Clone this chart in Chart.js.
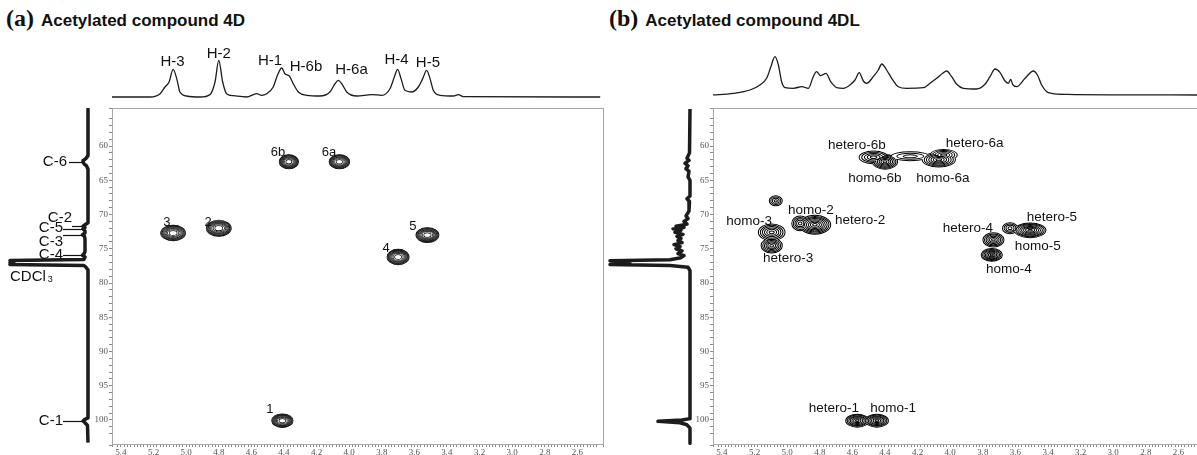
<!DOCTYPE html>
<html>
<head>
<meta charset="utf-8">
<script src="https://cdn.jsdelivr.net/npm/chart.js@4.4.1/dist/chart.umd.min.js"></script>
<style>
  html, body { margin: 0; padding: 0; background: #fff; }
  body { position: relative; width: 1197px; height: 455px; overflow: hidden; font-family: 'Liberation Sans', Arial, sans-serif; }
  canvas { position: absolute; }
  .title { position: absolute; top: 4px; white-space: nowrap; font-weight: bold; font-size: 17px; line-height: 28px; color: #111; }
  .title .tag { font-family: 'Liberation Serif', 'Times New Roman', serif; font-size: 24px; margin-right: 7px; }
</style>
</head>
<body>
<div class="title" style="left:6px"><span class="tag">(a)</span>Acetylated compound 4D</div>
<div class="title" style="left:609px"><span class="tag">(b)</span>Acetylated compound 4DL</div>

<canvas id="leftA" width="112" height="337" style="left:0;top:108px"></canvas>
<canvas id="topA" width="491" height="60" style="left:112px;top:40px"></canvas>
<canvas id="mapA" width="550" height="355" style="left:60px;top:100px"></canvas>

<canvas id="leftB" width="113" height="337" style="left:600px;top:108px"></canvas>
<canvas id="topB" width="486" height="60" style="left:713px;top:40px"></canvas>
<canvas id="mapB" width="546" height="355" style="left:661px;top:100px"></canvas>

<script>
// ---- axis ranges (ppm) ----
const C_MIN = 54.45, C_MAX = 103.65;      // 13C, vertical
const H_MAX = 5.455;                      // 1H, left edge of both maps
const H_MIN_A = 2.443, H_MIN_B = 2.474;   // 1H, right edge

// ---- (a) 1H projection ----
const topPpmA = [5.457, 5.22, 5.16, 5.13, 5.105, 5.08, 5.058, 5.038, 4.997, 4.915, 4.854, 4.823, 4.80, 4.776, 4.752, 4.71,
  4.63, 4.567, 4.537, 4.506, 4.466, 4.44, 4.414, 4.394, 4.367, 4.343, 4.312, 4.26, 4.18, 4.118, 4.087, 4.067, 4.046, 4.015,
  3.954, 3.862, 3.80, 3.75, 3.723, 3.703, 3.682, 3.658, 3.617, 3.576, 3.549, 3.525, 3.504, 3.484, 3.443, 3.361, 3.33, 3.30, 2.46];
const topIntA = [0, 0, 3.3, 10, 15, 27.7, 18.4, 5, 1, 0, 2.4, 15, 36.7, 15, 3.3, 1.3,
  0, 3.3, 1.7, 3.3, 10, 21.7, 29, 23.3, 21, 13.3, 5, 1.7, 1, 5, 13.3, 16.7, 13.3, 5,
  1, 2.4, 1.7, 8.3, 20, 27.7, 18.4, 6.7, 5, 10, 18.4, 26.7, 18.4, 6.7, 1.7, 1, 2.4, 0.3, 0];
const topLabelA = ['H-3', 'H-2', 'H-1', 'H-6b', 'H-6a', 'H-4', 'H-5'];
const topLabelHA = [5.084, 4.80, 4.486, 4.265, 3.986, 3.710, 3.517];
const topLabelIA = [35, 43.3, 36.2, 30.3, 26.7, 36.7, 33.7];

// ---- (a) 13C projection ----
const leftPpmA = [54.6, 61.4, 61.8, 62.1, 62.3, 62.6, 62.9, 63.4, 71.2, 71.5, 71.7, 71.9, 72.1, 72.4, 72.7, 72.95, 73.2, 73.6,
  74.5, 75.4, 75.75, 75.95, 76.2, 76.55, 76.72, 76.88, 77.02, 77.16, 77.3, 77.45, 77.7, 78.1, 99.7, 99.95, 100.15, 100.4, 100.8, 103.3];
const leftIntA = [0, 0, 2, 4.5, 5, 4, 1.5, 0, 0, 3, 5, 3, 5, 3, 3, 5.5, 3.5, 3,
  3, 3, 4, 5.5, 3, 4, 78, 74, 78, 74, 78, 4, 2, 0, 0, 3.5, 5, 3, 0.5, 0];
const leftLabelA = ['C-6', 'C-2', 'C-5', 'C-3', 'C-4', 'C-1'];
const leftLabelCA = [62.3, 70.55, 72.0, 74.0, 75.9, 100.1];
const leaderCA = [62.3, 71.7, 72.1, 72.95, 75.95, 100.15];

// ---- (a) HSQC cross peaks ----
const peakNameA = ['1', '2', '3', '4', '5', '6a', '6b'];
const peakHA = [4.41, 4.80, 5.08, 3.70, 3.52, 4.06, 4.37];
const peakCA = [100.1, 72.0, 72.7, 76.2, 73.0, 62.3, 62.3];
const widthHA = [0.068, 0.079, 0.079, 0.07, 0.073, 0.066, 0.062];
const widthCA = [1.05, 1.25, 1.2, 1.2, 1.15, 1.1, 1.1];
const levelsA = [9, 9, 9, 9, 9, 9, 9];
const mapLabelHA = [4.486, 4.866, 5.118, 3.774, 3.609, 4.124, 4.437];
const mapLabelCA = [98.5, 71.1, 71.1, 74.9, 71.7, 60.9, 60.9];

// ---- (b) 1H projection ----
const topPpmB = [5.463, 5.33, 5.228, 5.167, 5.126, 5.10, 5.075, 5.054, 5.034, 5.013, 4.962, 4.91, 4.87, 4.84, 4.82, 4.795,
  4.762, 4.733, 4.696, 4.656, 4.615, 4.584, 4.558, 4.533, 4.512, 4.472, 4.441, 4.42, 4.39, 4.359, 4.318, 4.267, 4.165,
  4.124, 4.083, 4.046, 4.022, 3.991, 3.96, 3.92, 3.838, 3.787, 3.756, 3.725, 3.695, 3.664, 3.643, 3.629, 3.617, 3.592,
  3.541, 3.49, 3.465, 3.439, 3.408, 3.377, 3.285, 2.48];
const topIntB = [0, 1.7, 5, 10, 16.7, 28.3, 38.3, 30, 13.3, 7.3, 6.7, 8.3, 6.7, 18.3, 23.3, 19.3,
  21.7, 13.3, 7.3, 6.7, 10, 15, 22.3, 14, 11.7, 18.3, 25, 31, 25, 16.7, 8.3, 6.7, 7.3,
  11.7, 16.7, 21.7, 24, 18.3, 10.7, 6.7, 6, 10.7, 18.3, 26, 22.7, 14, 11.7, 15.7, 10.7, 8.3,
  16.7, 24, 20, 10, 3.3, 1.7, 0.7, 0];

// ---- (b) 13C projection ----
const leftPpmB = [54.6, 61.0, 61.8, 62.1, 62.5, 62.9, 63.3, 63.7, 64.5, 65.0, 67.3, 67.7, 68.1, 69.5, 70.2, 70.6, 71.0, 71.4,
  71.7, 71.9, 72.1, 72.3, 72.6, 72.9, 73.2, 73.5, 73.8, 74.1, 74.4, 74.7, 75.0, 75.3, 75.7, 76.0, 76.3, 76.6,
  76.75, 76.9, 77.05, 77.2, 77.3, 77.45, 77.7, 78.2, 99.8, 100.0, 100.2, 100.4, 100.7, 101.2, 103.4];
const leftIntB = [0, 0.5, 3, 1, 5, 2, 4, 1, 2, 0, 0, 3, 0.5, 1, 4, 2, 6, 3,
  14, 6, 17, 9, 15, 7, 13, 9, 12, 8, 16, 10, 14, 8, 12, 6, 9, 20,
  80, 60, 78, 60, 80, 20, 2, 0, 0, 8, 32, 10, 3, 0, 0];

// ---- (b) HSQC cross peaks ----
const peakNameB = ['hetero-1', 'homo-1', 'hetero-2', 'homo-2', 'homo-3', 'hetero-3', 'hetero-4', 'homo-4',
  '5-minor', '5-major', 'hetero-6b', 'homo-6b', '6-ridge', 'hetero-6a', 'homo-6a', 'C68'];
const peakHB = [4.57, 4.45, 4.83, 4.92, 5.095, 5.095, 3.735, 3.745, 3.633, 3.51, 4.47, 4.40, 4.245, 4.04, 4.07, 5.07];
const peakCB = [100.1, 100.1, 71.5, 71.3, 72.6, 74.55, 73.7, 75.9, 72.0, 72.3, 61.65, 62.3, 61.5, 61.3, 62.0, 68.0];
const widthHB = [0.074, 0.074, 0.1, 0.055, 0.085, 0.068, 0.068, 0.068, 0.05, 0.1, 0.092, 0.08, 0.12, 0.086, 0.105, 0.043];
const widthCB = [1.02, 1.02, 1.45, 1.15, 1.3, 1.15, 1.1, 1.0, 0.88, 1.15, 1.0, 1.15, 0.72, 0.88, 1.15, 0.8];
const levelsB = [7, 7, 8, 5, 6, 6, 6, 7, 4, 8, 5, 7, 3, 5, 7, 4];
const mapLabelB = ['hetero-6b', 'hetero-6a', 'homo-6b', 'homo-6a', 'homo-2', 'hetero-2', 'homo-3', 'hetero-3',
  'hetero-4', 'hetero-5', 'homo-5', 'homo-4', 'hetero-1', 'homo-1'];
const mapLabelHB = [4.572, 3.85, 4.462, 4.045, 4.854, 4.553, 5.234, 4.994, 3.891, 3.376, 3.463, 3.64, 4.713, 4.35];
const mapLabelCB = [59.85, 59.6, 64.67, 64.67, 69.4, 70.85, 71.05, 76.35, 71.95, 70.35, 74.7, 78.0, 98.25, 98.25];

const TEXT = '#111';
const SANS = "'Liberation Sans', Arial, sans-serif";
Chart.defaults.font.family = SANS;

const zip = (xs, ys) => xs.map((v, i) => ({ x: v, y: ys[i] }));

// text + leader lines in data units
const notesPlugin = {
  id: 'notes',
  afterDatasetsDraw(chart, args, opts) {
    const { ctx, scales: { x, y } } = chart;
    ctx.save();
    ctx.fillStyle = TEXT;
    ctx.strokeStyle = TEXT;
    ctx.lineWidth = 1.2;
    (opts.leaders || []).forEach(l => {
      const py = Math.round(y.getPixelForValue(l.y)) + 0.5;
      ctx.beginPath();
      ctx.moveTo(x.getPixelForValue(l.from), py);
      ctx.lineTo(x.getPixelForValue(l.to), py);
      ctx.stroke();
    });
    ctx.textBaseline = 'middle';
    (opts.items || []).forEach(t => {
      const px = x.getPixelForValue(t.x), py = y.getPixelForValue(t.y);
      ctx.font = opts.font;
      ctx.textAlign = t.align || 'center';
      ctx.fillText(t.text, px, py);
      if (t.sub) {
        const w = ctx.measureText(t.text).width;
        ctx.font = opts.subFont;
        ctx.textAlign = 'left';
        ctx.fillText(t.sub, px + w + 2, py + 3);
      }
    });
    ctx.restore();
  }
};

// concentric contour rings for each cross peak, drawn level by level so touching peaks merge
const mapPlugin = {
  id: 'map',
  afterDatasetsDraw(chart, args, opts) {
    const { ctx, chartArea: a, scales: { x, y } } = chart;
    const meta = chart.getDatasetMeta(0);
    const raw = chart.data.datasets[0].data;
    const shapes = meta.data.map((pt, i) => ({
      cx: pt.x, cy: pt.y,
      rx: Math.abs(x.getPixelForValue(raw[i].x + raw[i].wx) - pt.x),
      ry: Math.abs(y.getPixelForValue(raw[i].y + raw[i].wy) - pt.y),
      n: raw[i].n
    }));
    const maxN = Math.max(...shapes.map(s => s.n));
    const lw = opts.lineWidth;
    ctx.save();
    ctx.beginPath();
    ctx.rect(a.left, a.top, a.width, a.height);
    ctx.clip();
    for (let k = 0; k < maxN; k++) {
      [0, 1].forEach(pass => {
        ctx.fillStyle = pass ? '#fff' : '#000';
        ctx.beginPath();
        shapes.forEach(s => {
          if (k >= s.n) return;
          const f = Math.pow(1 - k / s.n, opts.power);
          const ax = s.rx * f - pass * lw, ay = s.ry * f - pass * lw;
          if (ax <= 0 || ay <= 0) return;
          ctx.moveTo(s.cx + ax, s.cy);
          ctx.ellipse(s.cx, s.cy, ax, ay, 0, 0, Math.PI * 2);
        });
        ctx.fill();
      });
    }
    ctx.restore();

    ctx.save();
    ctx.strokeStyle = '#a8a8a8';
    ctx.lineWidth = 1;
    ctx.strokeRect(Math.round(a.left) + 0.5, Math.round(a.top) + 0.5, Math.round(a.width), Math.round(a.height) - 1);
    ctx.fillStyle = TEXT;
    ctx.font = opts.font;
    ctx.textAlign = 'center';
    ctx.textBaseline = 'middle';
    opts.labels.forEach(t => ctx.fillText(t.text, x.getPixelForValue(t.x), y.getPixelForValue(t.y)));
    ctx.restore();
  }
};

function traceChart(id, pts, xs, ys, width, smooth, notes) {
  return new Chart(document.getElementById(id), {
    type: 'scatter',
    data: {
      datasets: [{
        data: pts, showLine: true, borderColor: '#1c1c1c', borderWidth: width,
        pointRadius: 0, borderJoinStyle: 'round',
        cubicInterpolationMode: smooth ? 'monotone' : 'default', tension: 0
      }]
    },
    options: {
      responsive: false, animation: false, events: [],
      layout: { padding: 0 },
      plugins: { legend: { display: false }, tooltip: { enabled: false }, notes: notes || {} },
      scales: {
        x: Object.assign({ type: 'linear', display: false }, xs),
        y: Object.assign({ type: 'linear', display: false }, ys)
      }
    },
    plugins: [notesPlugin]
  });
}

function mapChart(id, hMin, peaks, labels, padRight, ringStyle) {
  const tickFont = { family: "'Liberation Serif', 'Times New Roman', serif", size: 9 };
  return new Chart(document.getElementById(id), {
    type: 'scatter',
    data: { datasets: [{ data: peaks, pointRadius: 0 }] },
    options: {
      responsive: false, animation: false, events: [],
      layout: { padding: { top: 8, right: padRight, left: 0, bottom: 0 } },
      plugins: {
        legend: { display: false }, tooltip: { enabled: false },
        map: Object.assign({ labels }, ringStyle)
      },
      scales: {
        x: {
          type: 'linear', reverse: true, min: hMin, max: H_MAX,
          afterFit: s => { s.height = 10; },
          border: { display: false },
          grid: { drawOnChartArea: false, drawTicks: true, tickLength: 2, color: '#888' },
          ticks: {
            stepSize: 0.02, autoSkip: false, maxRotation: 0, padding: 0, color: '#555', font: tickFont,
            callback: v => Math.abs(v * 5 - Math.round(v * 5)) < 1e-6 ? v.toFixed(1) : ''
          }
        },
        y: {
          type: 'linear', reverse: true, min: C_MIN, max: C_MAX,
          afterFit: s => { s.width = 52; },
          border: { display: false },
          grid: { drawOnChartArea: false, drawTicks: true, tickLength: 3, color: '#888' },
          ticks: {
            stepSize: 1, autoSkip: false, padding: 1, color: '#555', font: tickFont,
            callback: v => (Number.isInteger(v) && v % 5 === 0) ? String(v) : ''
          }
        }
      }
    },
    plugins: [mapPlugin]
  });
}

const peakData = (h, c, wh, wc, n) => h.map((v, i) => ({ x: v, y: c[i], wx: wh[i], wy: wc[i], n: n[i] }));
const labelData = (t, h, c) => t.map((s, i) => ({ text: s, x: h[i], y: c[i] }));

// ---------- panel (a) ----------
traceChart('topA', zip(topPpmA, topIntA),
  { reverse: true, min: H_MIN_A, max: H_MAX }, { min: -3, max: 57 }, 1.3, true,
  { font: '15px ' + SANS, items: labelData(topLabelA, topLabelHA, topLabelIA) });

traceChart('leftA', zip(leftIntA, leftPpmA),
  { reverse: true, min: -24, max: 88 }, { reverse: true, min: C_MIN, max: C_MAX }, 3.5, false,
  {
    font: '15px ' + SANS, subFont: '9px ' + SANS,
    items: leftLabelA.map((s, i) => ({ text: s, x: i === 1 ? 16 : (i === 0 ? 21 : 25), y: leftLabelCA[i], align: 'right' }))
      .concat([{ text: 'CDCl', sub: '3', x: 78, y: 79.1, align: 'left' }]),
    leaders: leaderCA.map((c, i) => ({ y: c, from: i === 1 ? 16 : (i === 0 ? 19 : 25), to: 5 }))
  });

mapChart('mapA', H_MIN_A, peakData(peakHA, peakCA, widthHA, widthCA, levelsA),
  labelData(peakNameA, mapLabelHA, mapLabelCA), 7,
  { lineWidth: 0.7, power: 0.5, font: '13px ' + SANS });

// ---------- panel (b) ----------
traceChart('topB', zip(topPpmB, topIntB),
  { reverse: true, min: H_MIN_B, max: H_MAX }, { min: -5, max: 55 }, 1.3, true, {});

traceChart('leftB', zip(leftIntB, leftPpmB),
  { reverse: true, min: -23, max: 90 }, { reverse: true, min: C_MIN, max: C_MAX }, 3.5, false, {});

mapChart('mapB', H_MIN_B, peakData(peakHB, peakCB, widthHB, widthCB, levelsB),
  labelData(mapLabelB, mapLabelHB, mapLabelCB), 8,
  { lineWidth: 1, power: 0.85, font: '13.5px ' + SANS });
</script>
</body>
</html>
